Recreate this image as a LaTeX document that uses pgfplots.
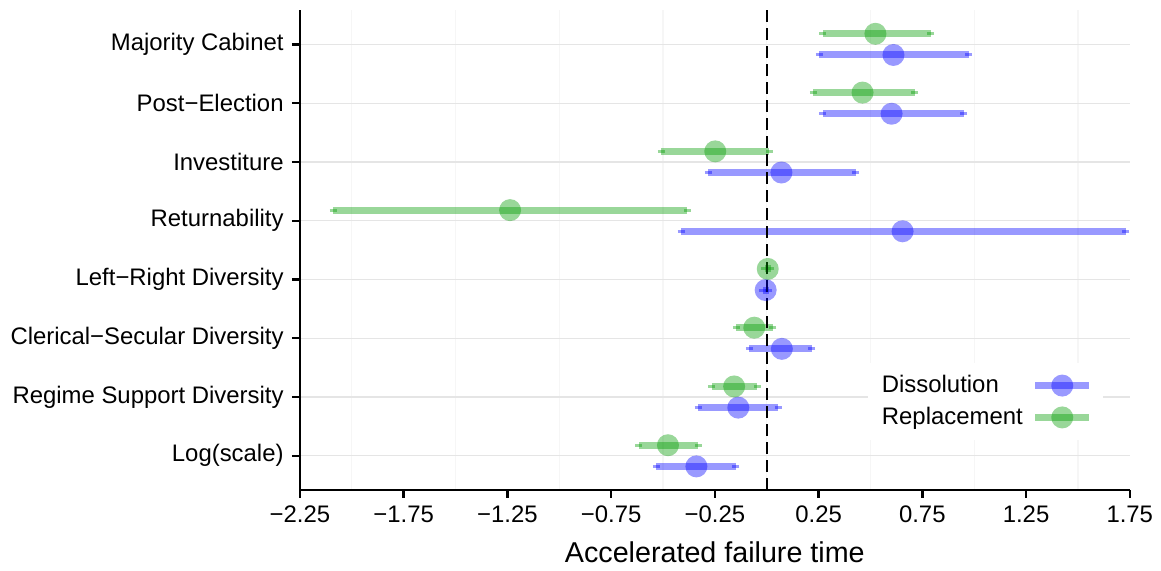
\documentclass[border=0pt,12pt]{standalone}
\usepackage{fontspec}
\setmainfont{Liberation Sans}
\usepackage{pgfplots}
\pgfplotsset{compat=1.18}
\definecolor{dblue}{RGB}{0,0,255}
\definecolor{dgreen}{RGB}{0,155,0}
\begin{document}
\begin{tikzpicture}
\begin{axis}[
  scale only axis,
  width=415bp, height=240bp,
  xmin=-2.25, xmax=1.75,
  ymin=0.42, ymax=8.585,
  axis x line*=bottom, axis y line*=left,
  axis line style={line width=1.2bp, black},
  tick align=outside,
  major tick length=4bp,
  minor tick length=0pt,
  major tick style={line width=1.2bp, black},
  xtick={-2.25,-1.75,-1.25,-0.75,-0.25,0.25,0.75,1.25,1.75},
  xticklabels={−2.25,−1.75,−1.25,−0.75,−0.25,0.25,0.75,1.25,1.75},
  minor xtick={-2,-1.5,-1,-0.5,0,0.5,1,1.5},
  xminorgrids=true,
  minor grid style={gray!7, line width=0.6bp},
  ytick={1,2,3,4,5,6,7,8},
  yticklabels={Log(scale),Regime Support Diversity,Clerical−Secular Diversity,Left−Right Diversity,Returnability,Investiture,Post−Election,Majority Cabinet},
  ymajorgrids=true,
  major grid style={gray!20, line width=0.6bp},
  xlabel={\fontsize{14.4}{17}\selectfont Accelerated failure time},
  xlabel style={yshift=-1bp},
  legend plot pos=right,
  legend cell align=left,
  legend style={at={(rel axis cs:0.684,0.265)}, anchor=north west, draw=none, fill=white,
    row sep=1.5bp, inner xsep=5bp, inner ysep=4bp,
    /tikz/every odd column/.append style={column sep=2.5bp}},
]
% Dissolution (blue)
\addplot[dblue, only marks, mark=*, mark size=5.5bp,
  mark options={fill=dblue, draw opacity=0, fill opacity=0.4},
  legend image code/.code={
    \path[draw=dblue, draw opacity=0.4, line width=3.5bp] (0bp,0bp) -- (27bp,0bp);
    \path[draw=none, fill=dblue, fill opacity=0.4] (13.5bp,0bp) circle (5.5bp);},
  error bars/.cd, x dir=both, x explicit,
  error bar style={line width=3.5bp, dblue, opacity=0.4},
  error mark options={line width=1.5bp, mark size=1.75bp, dblue, opacity=0.4},
  ]
  coordinates {
  (-0.339,0.82) += (0.190,0) -= (0.193,0)
  (-0.137,1.82) += (0.192,0) -= (0.194,0)
  (0.073,2.82) += (0.144,0) -= (0.156,0)
  (-0.005,3.82) += (0.015,0) -= (0.015,0)
  (0.655,4.82) += (1.076,0) -= (1.067,0)
  (0.071,5.82) += (0.357,0) -= (0.352,0)
  (0.602,6.82) += (0.347,0) -= (0.333,0)
  (0.611,7.82) += (0.362,0) -= (0.357,0)
  };
\addlegendentry{Dissolution}
% Replacement (green)
\addplot[dgreen, only marks, mark=*, mark size=5.5bp,
  mark options={fill=dgreen, draw opacity=0, fill opacity=0.4},
  legend image code/.code={
    \path[draw=dgreen, draw opacity=0.4, line width=3.5bp] (0bp,0bp) -- (27bp,0bp);
    \path[draw=none, fill=dgreen, fill opacity=0.4] (13.5bp,0bp) circle (5.5bp);},
  error bars/.cd, x dir=both, x explicit,
  error bar style={line width=3.5bp, dgreen, opacity=0.4},
  error mark options={line width=1.5bp, mark size=1.75bp, dgreen, opacity=0.4},
  ]
  coordinates {
  (-0.476,1.18) += (0.145,0) -= (0.142,0)
  (-0.157,2.18) += (0.112,0) -= (0.107,0)
  (-0.060,3.18) += (0.090,0) -= (0.086,0)
  (0.005,4.18) += (0.015,0) -= (0.015,0)
  (-1.237,5.18) += (0.854,0) -= (0.853,0)
  (-0.248,6.18) += (0.261,0) -= (0.260,0)
  (0.462,7.18) += (0.251,0) -= (0.237,0)
  (0.524,8.18) += (0.266,0) -= (0.255,0)
  };
\addlegendentry{Replacement}
\addplot[forget plot, black, line width=1bp, dash pattern=on 6bp off 3bp] coordinates {(0,0.42) (0,8.585)};
\end{axis}
\path (current axis.south west) ++(-150bp,-39bp) rectangle ++(580.5bp,284bp);
\end{tikzpicture}
\end{document}
